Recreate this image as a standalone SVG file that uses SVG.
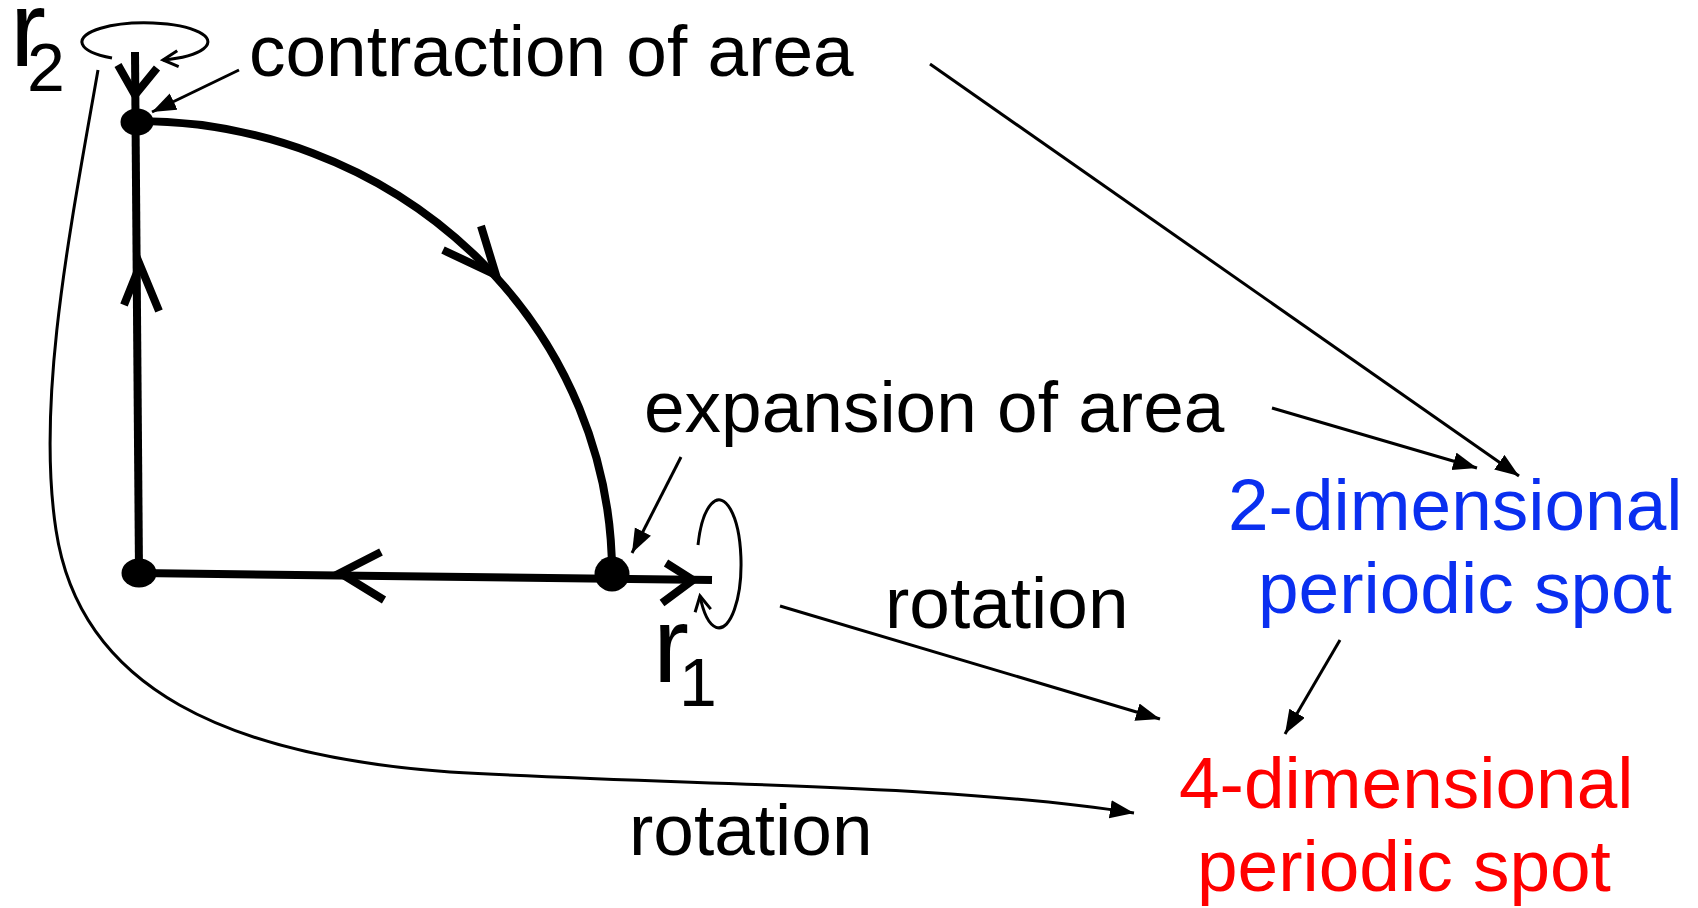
<svg xmlns="http://www.w3.org/2000/svg" width="1698" height="908" viewBox="0 0 1698 908">
<style>
.t{font-family:"Liberation Sans",Arial,sans-serif;font-size:73px;fill:#000}
.blue{fill:#0a2ff0}
.red{fill:#f00}
.big{font-family:"Liberation Sans",Arial,sans-serif;font-size:108px;fill:#000}
.sub{font-family:"Liberation Sans",Arial,sans-serif;font-size:68px;fill:#000}
.thick{fill:none;stroke:#000;stroke-width:8}
.thin{fill:none;stroke:#000;stroke-width:3}
.loop{fill:none;stroke:#000;stroke-width:3;marker-end:url(#open)}
.arr{fill:none;stroke:#000;stroke-width:3;marker-end:url(#tri)}
</style>
<defs>
<marker id="tri" markerUnits="userSpaceOnUse" markerWidth="26" markerHeight="20" refX="24" refY="9" orient="auto">
<path d="M0,0 L24,9 L0,18 Z" fill="#000"/>
</marker>
<marker id="open" markerUnits="userSpaceOnUse" markerWidth="24" markerHeight="24" refX="19" refY="12" orient="auto">
<path d="M4,4 L19,12 L4,20" fill="none" stroke="#000" stroke-width="3"/>
</marker>
</defs>
<rect width="1698" height="908" fill="#fff"/>

<g id="phase-cycle">
<path class="thick" d="M135,52 L139,573"/>
<path class="thick" d="M139,573 L712,580"/>
<path class="thick" d="M137,121 A475,452 0 0 1 612,575"/>
<polyline class="thick" points="118,65 135,95 157,68"/>
<polyline class="thick" points="124,305 140,265 159,311"/>
<polyline class="thick" points="443,250 496,275 481,226"/>
<polyline class="thick" points="381,552 340,573 384,600"/>
<polyline class="thick" points="666,563 693,580 662,603"/>
</g>

<g id="node-top"><ellipse cx="137" cy="122" rx="16.5" ry="13.5" fill="#000"/></g>
<g id="node-bottom-left"><ellipse cx="139" cy="573" rx="17.5" ry="14.5" fill="#000"/></g>
<g id="node-bottom-right"><circle cx="612" cy="574" r="17.5" fill="#000"/></g>

<g id="r2">
<text class="big" x="10" y="66">r</text>
<text class="sub" x="27" y="91">2</text>
<path class="loop" d="M112,58 A63,19 0 1 1 163,60"/>
</g>

<g id="r1">
<text class="big" x="653" y="682">r</text>
<text class="sub" x="679" y="706">1</text>
<path class="loop" d="M698,545 A22,64 0 1 1 700,596"/>
</g>

<g id="label-contraction"><text class="t" x="249" y="76">contraction of area</text></g>
<g id="label-expansion"><text class="t" x="644" y="432">expansion of area</text></g>
<g id="label-rotation-1"><text class="t" x="885" y="628">rotation</text></g>
<g id="label-rotation-2"><text class="t" x="629" y="855">rotation</text></g>
<g id="spot-2d">
<text class="t blue" x="1228" y="530">2-dimensional</text>
<text class="t blue" x="1258" y="613">periodic spot</text>
</g>
<g id="spot-4d">
<text class="t red" x="1179" y="808">4-dimensional</text>
<text class="t red" x="1197" y="891">periodic spot</text>
</g>

<g id="connectors">
<path class="arr" d="M239,70 L152,112"/>
<path class="arr" d="M681,457 L632,553"/>
<path class="arr" d="M930,64 L1519,476"/>
<path class="arr" d="M1272,408 L1477,468"/>
<path class="arr" d="M780,606 L1160,719"/>
<path class="arr" d="M1340,640 L1285,734"/>
<path class="arr" d="M98,70 C70,230 36,400 56,530 C80,690 230,756 450,772 C700,786 950,784 1134,813"/>
</g>
</svg>
